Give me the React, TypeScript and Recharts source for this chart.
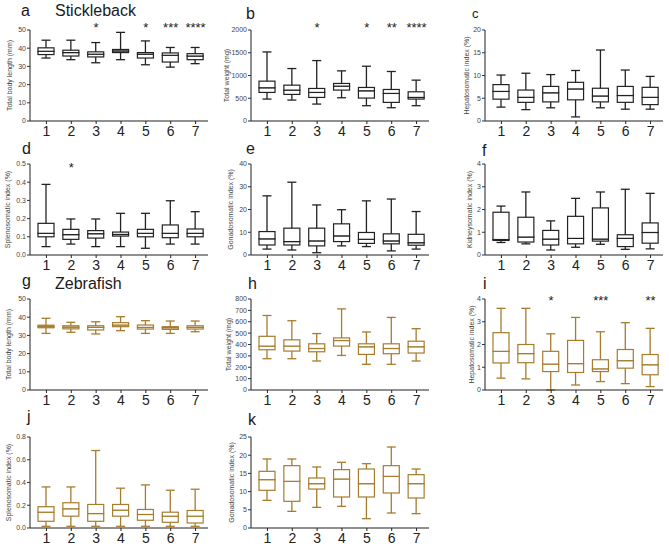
import { Bar, ComposedChart, XAxis, YAxis } from "recharts";

const GROUPS = ["1", "2", "3", "4", "5", "6", "7"];

// each entry: [min, q1, median, q3, max]
const stickleLength = [
  [34.6, 36.5, 38.3, 40.2, 44.4],
  [33.7, 35.7, 37.6, 38.9, 44.4],
  [32.0, 35.2, 36.7, 38.0, 43.1],
  [33.7, 37.6, 38.5, 39.3, 48.7],
  [30.9, 34.6, 36.7, 37.6, 44.0],
  [29.6, 32.4, 36.1, 37.4, 40.4],
  [31.5, 33.7, 35.7, 37.0, 40.4],
];
const stickleLengthStars = ["", "", "*", "", "*", "***", "****"];

const stickleWeight = [
  [482, 628, 730, 876, 1518],
  [460, 584, 679, 788, 1153],
  [372, 518, 628, 715, 1328],
  [511, 679, 766, 825, 1102],
  [336, 504, 664, 737, 1204],
  [292, 409, 606, 693, 1088],
  [336, 482, 518, 642, 898],
];
const stickleWeightStars = ["", "", "*", "", "*", "**", "****"];

const stickleHepato = [
  [3.05, 4.8, 6.5, 8.0, 10.1],
  [2.5, 4.1, 5.2, 6.8, 10.5],
  [2.9, 4.2, 6.2, 7.6, 10.2],
  [0.9, 4.65, 7.05, 8.5, 11.1],
  [2.9, 4.2, 5.5, 7.2, 15.6],
  [2.6, 4.1, 5.6, 7.6, 11.2],
  [2.6, 3.6, 5.2, 7.4, 9.8],
];

const stickleSpleno = [
  [0.046, 0.1, 0.119, 0.174, 0.388],
  [0.06, 0.086, 0.112, 0.141, 0.198],
  [0.046, 0.093, 0.117, 0.134, 0.198],
  [0.046, 0.104, 0.113, 0.126, 0.229],
  [0.037, 0.1, 0.119, 0.141, 0.229],
  [0.06, 0.095, 0.119, 0.165, 0.298],
  [0.06, 0.1, 0.119, 0.143, 0.238],
];
const stickleSplenoStars = ["", "*", "", "", "", "", ""];

const stickleGonado = [
  [2.6, 4.4, 7.1, 10.3, 26],
  [2.2, 4.4, 5.9, 11.8, 32],
  [1.0, 4.0, 6.2, 11.8, 22],
  [4.0, 5.9, 8.4, 13.7, 19.9],
  [3.7, 5.1, 6.9, 9.9, 23.8],
  [1.8, 4.9, 6.2, 9.3, 24.6],
  [2.6, 4.3, 5.4, 9.1, 19.1],
];

const stickleKidney = [
  [0.55, 0.64, 0.68, 1.88, 2.15],
  [0.49, 0.57, 0.79, 1.66, 2.77],
  [0.22, 0.44, 0.7, 1.08, 1.5],
  [0.34, 0.49, 0.73, 1.7, 2.49],
  [0.47, 0.61, 0.7, 2.07, 2.77],
  [0.25, 0.37, 0.73, 0.89, 2.89],
  [0.27, 0.52, 0.99, 1.41, 2.71],
];

const zebraLength = [
  [31.1, 34.2, 34.9, 35.6, 39.4],
  [31.7, 33.6, 34.5, 35.3, 37.2],
  [30.8, 33.0, 34.4, 35.3, 37.5],
  [32.6, 34.8, 35.7, 37.0, 40.3],
  [31.1, 33.5, 34.4, 35.7, 38.1],
  [31.1, 33.3, 34.2, 34.8, 37.9],
  [32.0, 33.5, 34.4, 35.3, 37.9],
];

const zebraWeight = [
  [275, 354, 386, 472, 655],
  [275, 342, 386, 441, 609],
  [255, 336, 365, 406, 496],
  [304, 386, 435, 458, 713],
  [226, 313, 380, 406, 510],
  [226, 319, 365, 406, 638],
  [255, 325, 380, 429, 539],
];

const zebraHepato = [
  [0.52, 1.19, 1.7, 2.52, 3.59],
  [0.49, 1.2, 1.6, 2.0, 3.59],
  [0.0, 0.81, 1.14, 1.7, 2.47],
  [0.22, 0.77, 1.16, 2.18, 3.19],
  [0.37, 0.81, 0.93, 1.33, 2.56],
  [0.28, 0.96, 1.29, 1.78, 2.96],
  [0.15, 0.67, 1.11, 1.56, 2.71],
];
const zebraHepatoStars = ["", "", "*", "", "***", "", "**"];

const zebraSpleno = [
  [0.015, 0.059, 0.139, 0.187, 0.361],
  [0.015, 0.104, 0.169, 0.222, 0.361],
  [0.015, 0.059, 0.127, 0.207, 0.681],
  [0.015, 0.104, 0.157, 0.207, 0.35],
  [0.015, 0.068, 0.119, 0.163, 0.379],
  [0.015, 0.05, 0.104, 0.139, 0.332],
  [0.015, 0.044, 0.104, 0.154, 0.341],
];

const zebraGonado = [
  [7.6, 10.35, 13.28, 15.57, 18.96],
  [4.58, 7.33, 12.82, 17.12, 18.96],
  [5.68, 10.7, 12.18, 13.74, 16.76],
  [5.95, 8.52, 13.46, 16.03, 18.04],
  [2.56, 8.52, 12.18, 16.21, 17.67],
  [4.12, 9.62, 14.19, 17.12, 22.25],
  [3.94, 8.24, 12.18, 14.65, 16.21],
];

const STICKLE = "#222222";
const ZEBRA = "#a67c2e";
const FONT = "'Liberation Sans', Arial, sans-serif";

function whisker(color: string, capAtTop: boolean) {
  return (props: any) => {
    const { x, y, width, height } = props;
    const cx = x + width / 2;
    const capY = capAtTop ? y : y + height;
    return (
      <g>
        <line x1={cx} x2={cx} y1={y} y2={y + height} stroke={color} strokeWidth={1.3} />
        <line x1={cx - 4.5} x2={cx + 4.5} y1={capY} y2={capY} stroke={color} strokeWidth={1.3} />
      </g>
    );
  };
}

function boxPart(color: string) {
  return (props: any) => {
    const { x, y, width, height } = props;
    return (
      <rect x={x} y={y} width={width} height={height} fill="#fff" stroke={color} strokeWidth={1.2} />
    );
  };
}

type PanelProps = {
  left: number;
  top: number;
  yLabel: string;
  stats: number[][];
  ticks: number[];
  decimals?: number;
  stars?: string[];
  color: string;
  labelOffset: number;
  starDy?: number;
};

function BoxPanel({
  left,
  top,
  yLabel,
  stats,
  ticks,
  decimals = 0,
  stars,
  color,
  labelOffset,
  starDy = 0,
}: PanelProps) {
  const data = GROUPS.map((name, i) => {
    const [lo, q1, med, q3, hi] = stats[i];
    return {
      name,
      star: stars ? stars[i] : "",
      base: lo,
      lw: q1 - lo,
      lb: med - q1,
      ub: q3 - med,
      uw: hi - q3,
    };
  });
  const starOf: Record<string, string> = {};
  data.forEach((d) => (starOf[d.name] = d.star));

  return (
    <div style={{ position: "absolute", left, top }}>
      <ComposedChart
        width={214}
        height={133}
        data={data}
        margin={{ top: 0, right: 6, bottom: 0, left: 0 }}
        barSize={16}
        style={{ fontFamily: FONT }}
      >
        <XAxis
          xAxisId="sig"
          orientation="top"
          dataKey="name"
          height={20}
          axisLine={false}
          tickLine={false}
          tickSize={0}
          tickMargin={0}
          padding={{ left: 4, right: 0 }}
          interval={0}
          tickFormatter={(v) => starOf[v] ?? ""}
          tick={{ fontSize: 13, fill: "#222", dy: starDy }}
        />
        <XAxis
          xAxisId="main"
          dataKey="name"
          height={22}
          axisLine={{ stroke: "#222", strokeWidth: 1.2 }}
          tickLine={{ stroke: "#222" }}
          tickSize={3}
          tickMargin={2}
          padding={{ left: 4, right: 0 }}
          interval={0}
          tick={{ fontSize: 14, fill: "#222" }}
        />
        <YAxis
          width={30}
          domain={[ticks[0], ticks[ticks.length - 1]]}
          ticks={ticks}
          interval={0}
          axisLine={{ stroke: "#333", strokeWidth: 1.1 }}
          tickLine={{ stroke: "#333" }}
          tickSize={3}
          tickMargin={1}
          tick={{ fontSize: 7, fill: "#444" }}
          tickFormatter={(v) => Number(v).toFixed(decimals)}
          label={{
            value: yLabel,
            angle: -90,
            position: "insideLeft",
            offset: labelOffset,
            style: { textAnchor: "middle", fontSize: 7, fill: "#444" },
          }}
        />
        <Bar xAxisId="main" dataKey="base" stackId="b" fill="transparent" isAnimationActive={false} />
        <Bar xAxisId="main" dataKey="lw" stackId="b" shape={whisker(color, false)} isAnimationActive={false} />
        <Bar xAxisId="main" dataKey="lb" stackId="b" shape={boxPart(color)} isAnimationActive={false} />
        <Bar xAxisId="main" dataKey="ub" stackId="b" shape={boxPart(color)} isAnimationActive={false} />
        <Bar xAxisId="main" dataKey="uw" stackId="b" shape={whisker(color, true)} isAnimationActive={false} />
      </ComposedChart>
    </div>
  );
}

function Tag({ x, baseline, text, size = 16 }: { x: number; baseline: number; text: string; size?: number }) {
  return (
    <div
      style={{
        position: "absolute",
        left: x,
        top: baseline - size * 0.85,
        fontSize: size,
        lineHeight: 1,
        fontFamily: FONT,
        color: "#1a1a1a",
        whiteSpace: "nowrap",
      }}
    >
      {text}
    </div>
  );
}

const COL = [0, 221, 455];
const ROW = [10, 144, 279, 417];

export default function App() {
  return (
    <div style={{ position: "absolute", left: 0, top: 0, width: 669, height: 550, background: "#fff", overflow: "hidden" }}>
      <Tag x={21} baseline={17} text="a" />
      <Tag x={55} baseline={17} text="Stickleback" />
      <Tag x={246} baseline={20} text="b" />
      <Tag x={472} baseline={18} text="c" size={13} />
      <Tag x={22} baseline={155} text="d" />
      <Tag x={246} baseline={155} text="e" />
      <Tag x={482} baseline={157} text="f" />
      <Tag x={22} baseline={287} text="g" />
      <Tag x={55} baseline={290} text="Zebrafish" />
      <Tag x={248} baseline={290} text="h" />
      <Tag x={483} baseline={290} text="i" />
      <Tag x={27} baseline={423} text="j" />
      <Tag x={248} baseline={426} text="k" />

      <BoxPanel left={COL[0]} top={ROW[0]} yLabel="Total body length (mm)" stats={stickleLength}
        ticks={[0, 10, 20, 30, 40, 50]} stars={stickleLengthStars} color={STICKLE} labelOffset={10} starDy={2} />
      <BoxPanel left={COL[1]} top={ROW[0]} yLabel="Total weight (mg)" stats={stickleWeight}
        ticks={[0, 500, 1000, 1500, 2000]} stars={stickleWeightStars} color={STICKLE} labelOffset={6} starDy={2} />
      <BoxPanel left={COL[2]} top={ROW[0]} yLabel="Hepatosomatic index (%)" stats={stickleHepato}
        ticks={[0, 5, 10, 15, 20]} color={STICKLE} labelOffset={12} />

      <BoxPanel left={COL[0]} top={ROW[1]} yLabel="Splenosomatic index (%)" stats={stickleSpleno}
        ticks={[0, 0.1, 0.2, 0.3, 0.4, 0.5]} decimals={1} stars={stickleSplenoStars} color={STICKLE} labelOffset={8} starDy={8} />
      <BoxPanel left={COL[1]} top={ROW[1]} yLabel="Gonadosomatic index (%)" stats={stickleGonado}
        ticks={[0, 10, 20, 30, 40]} color={STICKLE} labelOffset={10} />
      <BoxPanel left={COL[2]} top={ROW[1]} yLabel="Kidneysomatic index (%)" stats={stickleKidney}
        ticks={[0, 1, 2, 3, 4]} color={STICKLE} labelOffset={15} />

      <BoxPanel left={COL[0]} top={ROW[2]} yLabel="Total body length (mm)" stats={zebraLength}
        ticks={[0, 10, 20, 30, 40, 50]} color={ZEBRA} labelOffset={9} />
      <BoxPanel left={COL[1]} top={ROW[2]} yLabel="Total weight (mg)" stats={zebraWeight}
        ticks={[0, 100, 200, 300, 400, 500, 600, 700, 800]} color={ZEBRA} labelOffset={8} />
      <BoxPanel left={COL[2]} top={ROW[2]} yLabel="Hepatosomatic index (%)" stats={zebraHepato}
        ticks={[0, 1, 2, 3, 4]} stars={zebraHepatoStars} color={ZEBRA} labelOffset={17} starDy={6} />

      <BoxPanel left={COL[0]} top={ROW[3]} yLabel="Splenosomatic index (%)" stats={zebraSpleno}
        ticks={[0, 0.2, 0.4, 0.6, 0.8]} decimals={1} color={ZEBRA} labelOffset={9} />
      <BoxPanel left={COL[1]} top={ROW[3]} yLabel="Gonadosomatic index (%)" stats={zebraGonado}
        ticks={[0, 5, 10, 15, 20, 25]} color={ZEBRA} labelOffset={11} />
    </div>
  );
}
